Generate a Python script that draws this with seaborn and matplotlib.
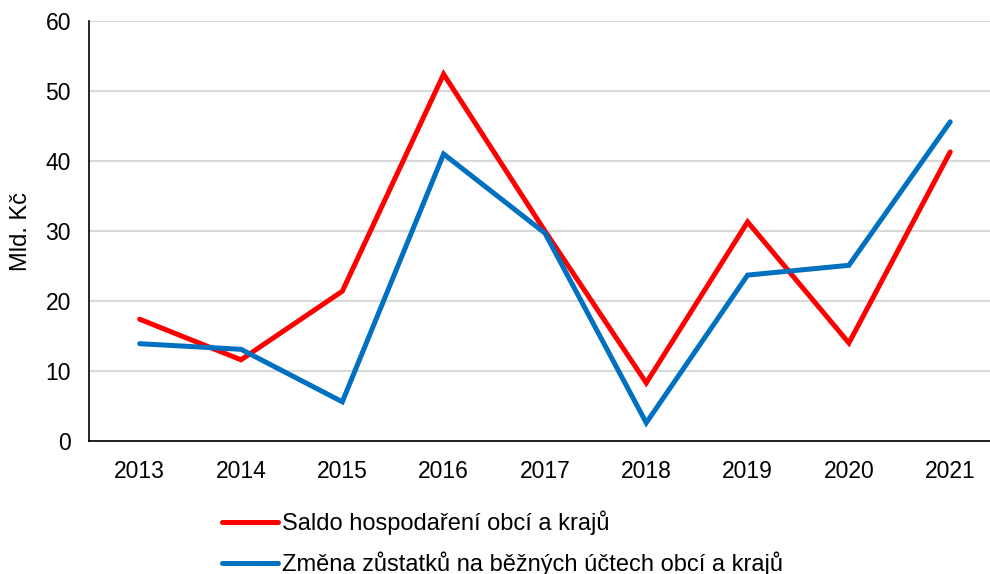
import seaborn as sns
import pandas as pd
import matplotlib.pyplot as plt

years = ["2013", "2014", "2015", "2016", "2017", "2018", "2019", "2020", "2021"]
saldo = [17.4, 11.6, 21.4, 52.4, 30.0, 8.3, 31.3, 14.0, 41.3]
zmena = [13.9, 13.1, 5.6, 41.0, 29.7, 2.6, 23.7, 25.1, 45.6]
series_names = ["Saldo hospodaření obcí a krajů",
                "Změna zůstatků na běžných účtech obcí a krajů"]
colors = ["#FF0000", "#0070C0"]

sns.set_style("white")
plt.rcParams['font.family'] = ['Liberation Sans', 'DejaVu Sans']
plt.rcParams['text.color'] = 'black'
plt.rcParams['xtick.color'] = 'black'
plt.rcParams['ytick.color'] = 'black'
plt.rcParams['axes.labelcolor'] = 'black'

df = pd.DataFrame({
    "rok": years * 2,
    "hodnota": saldo + zmena,
    "serie": [series_names[0]] * len(years) + [series_names[1]] * len(years),
})

fig = plt.figure(figsize=(9.9, 5.74), dpi=100)
ax = fig.add_axes([0.0899, 0.2317, 0.9211, 0.7317])

sns.lineplot(data=df, x="rok", y="hodnota", hue="serie", palette=colors,
             linewidth=3.6, ax=ax, sort=False)
for ln in ax.lines:
    ln.set_solid_capstyle("round")
    ln.set_solid_joinstyle("miter")

ax.set_xlim(-0.5, 8.5)
ax.set_ylim(0, 60)
ax.set_yticks(range(0, 61, 10))
ax.yaxis.grid(True, color="#D9D9D9", linewidth=1.5)
ax.set_axisbelow(True)
ax.set_xlabel("")
ax.set_ylabel("Mld. Kč", fontsize=17)
ax.yaxis.set_label_coords(-0.0625, 0.5)
ax.tick_params(axis="y", labelsize=16.5, length=0, pad=13)
ax.tick_params(axis="x", labelsize=16.5, length=0, pad=14)
for s in ["top", "right"]:
    ax.spines[s].set_visible(False)
for s in ["left", "bottom"]:
    ax.spines[s].set_color("black")
    ax.spines[s].set_linewidth(1.2)

handles, labels = ax.get_legend_handles_labels()
ax.legend(handles, labels, loc="upper left", bbox_to_anchor=(0.224, 0.111),
          bbox_transform=fig.transFigure, frameon=False, fontsize=17,
          handlelength=2.4, handletextpad=0.17, labelspacing=0.7,
          borderpad=0, borderaxespad=0)

fig.savefig("out.png", dpi=100)
